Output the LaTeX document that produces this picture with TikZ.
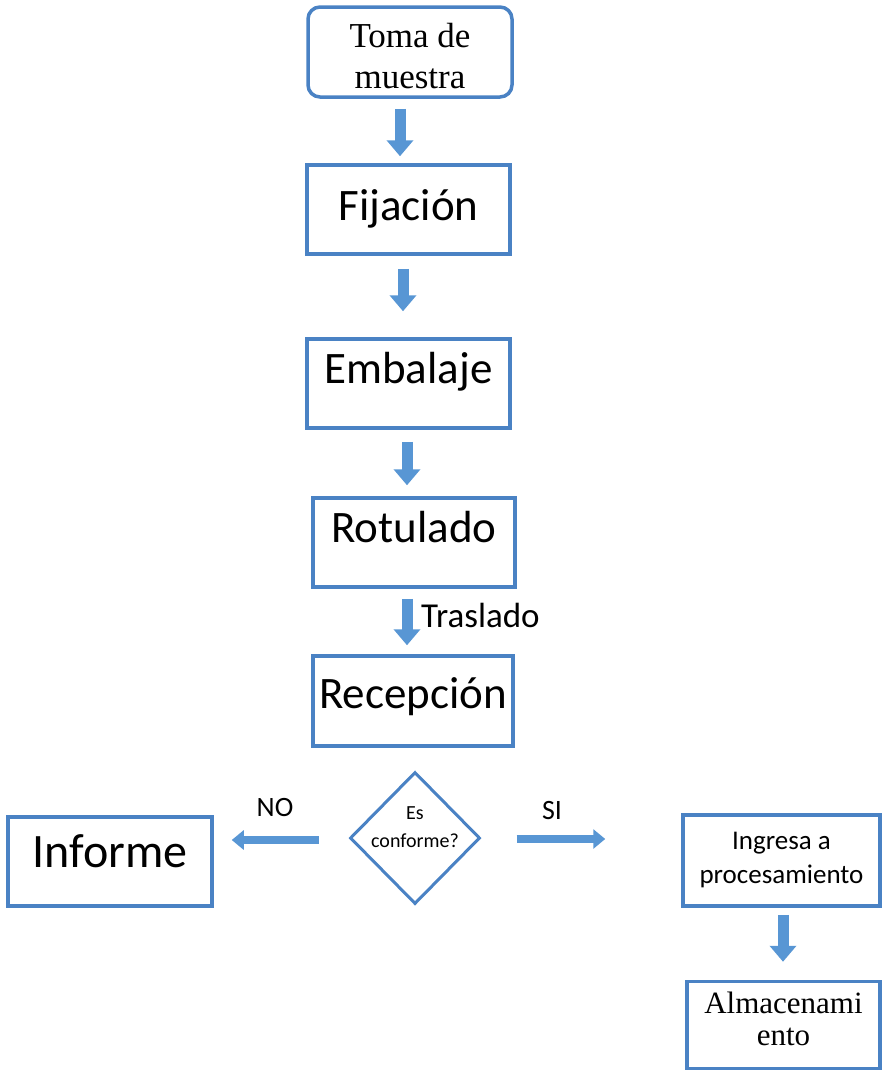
\documentclass[tikz,border=0pt]{standalone}
\usepackage{fontspec}
\setmainfont{Carlito}
\newfontfamily\serifcam{Liberation Serif}
\usetikzlibrary{shapes.geometric,arrows.meta}
\definecolor{boxblue}{RGB}{74,130,196}
\definecolor{arrblue}{RGB}{88,150,212}
\begin{document}
\begin{tikzpicture}[x=1pt,y=-1pt,
  box/.style={draw=boxblue, line width=3.5pt, inner sep=0pt, align=center},
  vflow/.style={draw=arrblue, line width=11pt, -{Triangle[width=26pt,length=16pt]}},
  hflow/.style={draw=arrblue, line width=8pt, -{Triangle[width=19pt,length=12pt]}}]
\useasboundingbox (0,0) rectangle (883,1072);

\node[box, rounded corners=12pt, minimum width=204pt, minimum height=90pt,
  font=\serifcam\fontsize{35}{41}\selectfont, text height=72pt, text depth=0pt] (toma) at (410,52) {Toma de\\muestra};
\node[box, minimum width=203pt, minimum height=89pt, font=\fontsize{45}{54}\selectfont,
  text height=32pt, text depth=11pt] (fija) at (408.5,209.5) {Fijación};
\node[box, minimum width=203pt, minimum height=89pt, font=\fontsize{45}{54}\selectfont,
  text height=32pt, text depth=32pt] (emba) at (408.5,383.5) {Embalaje};
\node[box, minimum width=202pt, minimum height=89pt, font=\fontsize{45}{54}\selectfont,
  text height=32pt, text depth=32pt] (rotu) at (414,542.5) {Rotulado};
\node[box, minimum width=200pt, minimum height=90pt, font=\fontsize{45}{54}\selectfont,
  text height=32pt, text depth=18pt] (rece) at (413,701) {Recepción};
\node[draw=boxblue, line width=3pt, diamond, minimum width=130pt, minimum height=132pt,
  inner sep=0pt] (dec) at (415,838) {};
\node[font=\fontsize{20}{28}\selectfont, align=center, inner sep=0pt] (dectext) at ([yshift=11pt]dec.center) {Es\\conforme?};
\node[box, minimum width=204pt, minimum height=89pt, font=\fontsize{48}{56}\selectfont,
  text height=34pt, text depth=23pt] (inform) at (110,861.5) {Informe};
\node[box, minimum width=197pt, minimum height=91pt, font=\fontsize{27}{34}\selectfont] (ingr) at (781.5,860.5) {Ingresa a\\procesamiento};
\node[box, minimum width=193pt, minimum height=87pt, font=\serifcam\fontsize{31}{32}\selectfont,
  text height=54pt, text depth=14pt] (alma) at (783.5,1025) {Almacenami\\ento};

\node[font=\fontsize{28}{30}\selectfont] (no) at (275,807) {NO};
\node[font=\fontsize{28}{30}\selectfont] (si) at (552,810) {SI};
\node[anchor=west, font=\fontsize{35}{40}\selectfont, inner sep=0pt] (tras) at (421,615) {Traslado};

\draw[vflow, shorten <=10pt, shorten >=7pt] ([xshift=-10pt]toma.south) -- ([xshift=-10pt]toma.south |- fija.north);
\draw[vflow, shorten <=13pt, shorten >=26pt] ([xshift=-5.5pt]fija.south) -- ([xshift=-5.5pt]fija.south |- emba.north);
\draw[vflow, shorten <=12pt, shorten >=11pt] ([xshift=-1.5pt]emba.south) -- ([xshift=-1.5pt]emba.south |- rotu.north);
\draw[vflow, shorten <=10pt, shorten >=9pt] ([xshift=-7pt]rotu.south) -- ([xshift=-7pt]rotu.south |- rece.north);
\draw[vflow, shorten <=7pt, shorten >=18pt] ([xshift=1.5pt]ingr.south) -- ([xshift=1.5pt]ingr.south |- alma.north);
\draw[hflow, shorten <=30pt, shorten >=18pt] ([yshift=-2pt]dec.west) -- ([yshift=-2pt]dec.west -| inform.east);
\draw[hflow, shorten <=35pt, shorten >=76pt] ([yshift=-1pt]dec.east) -- ([yshift=-1pt]dec.east -| ingr.west);
\end{tikzpicture}
\end{document}
